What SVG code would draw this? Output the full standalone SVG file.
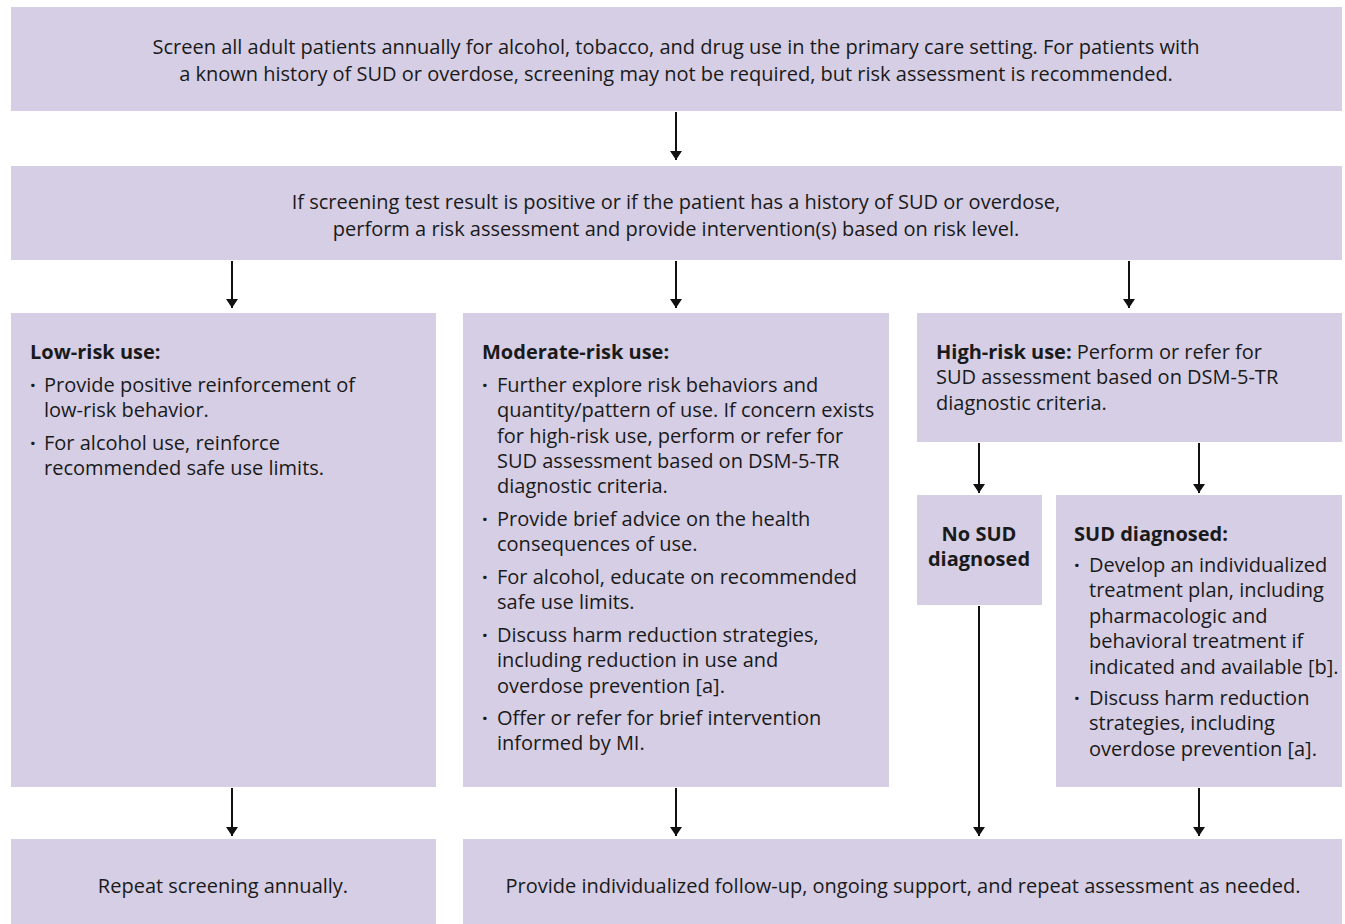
<svg xmlns="http://www.w3.org/2000/svg" width="1345" height="924" viewBox="0 0 1345 924">
<style>
.box{fill:#d5cee5}
text{font-family:"Open Sans","Noto Sans",sans-serif;font-size:20px;fill:#1a1a1a}
.c{text-anchor:middle}
.b{font-weight:bold}
.con line{stroke:#111;stroke-width:2}
</style>
<defs>
<marker id="ah" viewBox="0 0 9 12" refX="9" refY="6" markerWidth="9" markerHeight="12" markerUnits="userSpaceOnUse" orient="auto">
<path d="M0,0 L9,6 L0,12 Z" fill="#111"/>
</marker>
</defs>
<rect width="1345" height="924" fill="#fff"/>

<g id="screen">
<rect class="box" x="11" y="7" width="1331" height="104"/>
<text class="c" x="676" y="54">Screen all adult patients annually for alcohol, tobacco, and drug use in the primary care setting. For patients with</text>
<text class="c" x="676" y="81">a known history of SUD or overdose, screening may not be required, but risk assessment is recommended.</text>
</g>

<g id="assess">
<rect class="box" x="11" y="166" width="1331" height="94"/>
<text class="c" x="676" y="209">If screening test result is positive or if the patient has a history of SUD or overdose,</text>
<text class="c" x="676" y="236">perform a risk assessment and provide intervention(s) based on risk level.</text>
</g>

<g id="low">
<rect class="box" x="11" y="313" width="425" height="474"/>
<text class="b" x="30" y="359">Low-risk use:</text>
<text class="b" x="30" y="392">·</text><text x="44" y="392">Provide positive reinforcement of</text>
<text x="44" y="417">low-risk behavior.</text>
<text class="b" x="30" y="450">·</text><text x="44" y="450">For alcohol use, reinforce</text>
<text x="44" y="475">recommended safe use limits.</text>
</g>

<g id="moderate">
<rect class="box" x="463" y="313" width="426" height="474"/>
<text class="b" x="482" y="359">Moderate-risk use:</text>
<text class="b" x="482" y="392">·</text><text x="497" y="392">Further explore risk behaviors and</text>
<text x="497" y="417">quantity/pattern of use. If concern exists</text>
<text x="497" y="443">for high-risk use, perform or refer for</text>
<text x="497" y="468">SUD assessment based on DSM-5-TR</text>
<text x="497" y="493">diagnostic criteria.</text>
<text class="b" x="482" y="526">·</text><text x="497" y="526">Provide brief advice on the health</text>
<text x="497" y="551">consequences of use.</text>
<text class="b" x="482" y="584">·</text><text x="497" y="584">For alcohol, educate on recommended</text>
<text x="497" y="609">safe use limits.</text>
<text class="b" x="482" y="642">·</text><text x="497" y="642">Discuss harm reduction strategies,</text>
<text x="497" y="667">including reduction in use and</text>
<text x="497" y="693">overdose prevention [a].</text>
<text class="b" x="482" y="725">·</text><text x="497" y="725">Offer or refer for brief intervention</text>
<text x="497" y="750">informed by MI.</text>
</g>

<g id="high">
<rect class="box" x="917" y="313" width="425" height="129"/>
<text x="936" y="359"><tspan class="b">High-risk use:</tspan> Perform or refer for</text>
<text x="936" y="384">SUD assessment based on DSM-5-TR</text>
<text x="936" y="410">diagnostic criteria.</text>
</g>

<g id="nosud">
<rect class="box" x="917" y="495" width="125" height="110"/>
<text class="c b" x="979" y="541">No SUD</text>
<text class="c b" x="979" y="566">diagnosed</text>
</g>

<g id="sud">
<rect class="box" x="1056" y="495" width="286" height="292"/>
<text class="b" x="1074" y="541">SUD diagnosed:</text>
<text class="b" x="1074" y="572">·</text><text x="1089" y="572">Develop an individualized</text>
<text x="1089" y="597">treatment plan, including</text>
<text x="1089" y="623">pharmacologic and</text>
<text x="1089" y="648">behavioral treatment if</text>
<text x="1089" y="674">indicated and available [b].</text>
<text class="b" x="1074" y="705">·</text><text x="1089" y="705">Discuss harm reduction</text>
<text x="1089" y="730">strategies, including</text>
<text x="1089" y="756">overdose prevention [a].</text>
</g>

<g id="repeat">
<rect class="box" x="11" y="839" width="425" height="85"/>
<text class="c" x="223" y="893">Repeat screening annually.</text>
</g>

<g id="followup">
<rect class="box" x="463" y="839" width="879" height="85"/>
<text class="c" x="903" y="893">Provide individualized follow-up, ongoing support, and repeat assessment as needed.</text>
</g>

<g class="con" id="connectors">
<line x1="676" y1="112" x2="676" y2="160" marker-end="url(#ah)"/>
<line x1="232" y1="261" x2="232" y2="308" marker-end="url(#ah)"/>
<line x1="676" y1="261" x2="676" y2="308" marker-end="url(#ah)"/>
<line x1="1129" y1="261" x2="1129" y2="308" marker-end="url(#ah)"/>
<line x1="979" y1="443" x2="979" y2="493" marker-end="url(#ah)"/>
<line x1="1199" y1="443" x2="1199" y2="493" marker-end="url(#ah)"/>
<line x1="232" y1="788" x2="232" y2="836" marker-end="url(#ah)"/>
<line x1="676" y1="788" x2="676" y2="836" marker-end="url(#ah)"/>
<line x1="979" y1="606" x2="979" y2="836" marker-end="url(#ah)"/>
<line x1="1199" y1="788" x2="1199" y2="836" marker-end="url(#ah)"/>
</g>
</svg>
